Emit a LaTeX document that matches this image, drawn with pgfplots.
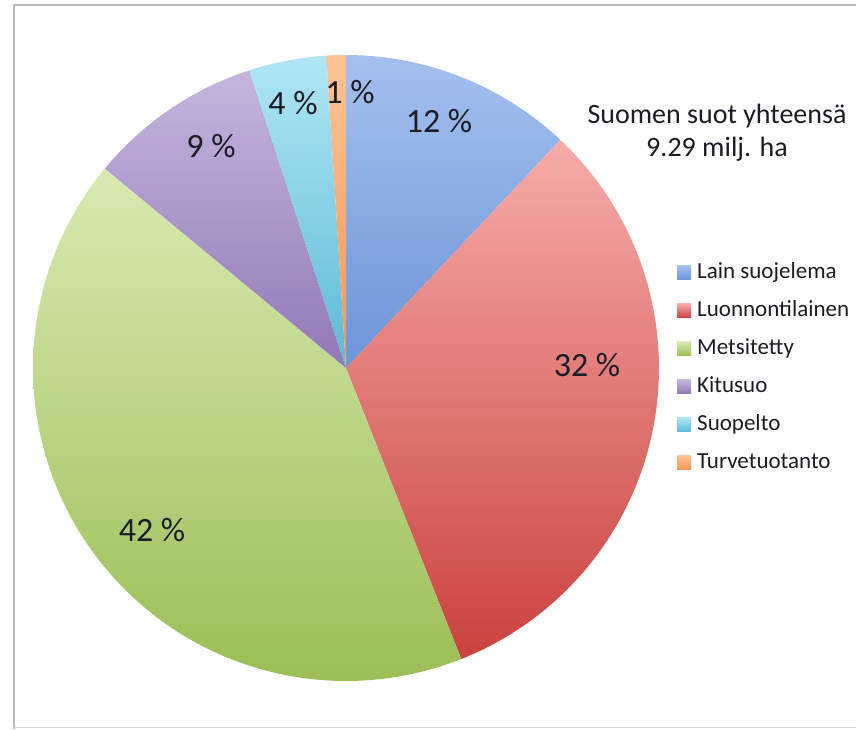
\documentclass[border=0pt]{standalone}
\usepackage{fontspec}
\setmainfont{Carlito}
\usepackage{pgfplots}
\pgfplotsset{compat=1.18}

\definecolor{txt}{RGB}{28,28,38}
\definecolor{frame}{RGB}{185,185,185}
\definecolor{blueT}{RGB}{164,192,238}
\definecolor{blueB}{RGB}{108,148,216}
\definecolor{redT}{RGB}{246,172,170}
\definecolor{redB}{RGB}{202,66,62}
\definecolor{greenT}{RGB}{216,234,178}
\definecolor{greenB}{RGB}{155,190,86}
\definecolor{purpleT}{RGB}{196,182,222}
\definecolor{purpleB}{RGB}{146,120,182}
\definecolor{cyanT}{RGB}{176,230,244}
\definecolor{cyanB}{RGB}{92,186,214}
\definecolor{orangeT}{RGB}{250,196,150}
\definecolor{orangeB}{RGB}{244,150,82}

% #1 = start (%), #2 = share (%), #3/#4 = top/bottom colour
\newcommand{\slice}[4]{%
  \pgfmathsetmacro{\sa}{#1*3.6}%
  \pgfmathsetmacro{\sb}{(#1+#2)*3.6}%
  \edef\doslice{\noexpand\addplot[draw=none, top color=#3, bottom color=#4,
      domain=\sa:\sb, samples=90, variable=\noexpand\t]}%
  \doslice ({346+313*sin(\t)},{368-313*cos(\t)}) -- (axis cs:346,368) -- cycle;
}

\begin{document}
\begin{tikzpicture}
\begin{axis}[
    scale only axis,
    width=856pt, height=729pt,
    xmin=0, xmax=856, ymin=0, ymax=729,
    y dir=reverse,
    hide axis,
    clip=false,
    legend image code/.code={\fill[#1] (0pt,-7pt) rectangle (14pt,7pt);},
    legend style={draw=none, fill=none, at={(axis cs:677,262)}, anchor=north west,
      font=\fontsize{23}{28}\selectfont, text=txt, inner sep=0pt,
      row sep=17pt, column sep=6pt,
      nodes={inner sep=0pt, text height=16pt, text depth=5pt},
      cells={anchor=west}},
  ]
  % frame
  \draw[frame, line width=2pt] (axis cs:14,729) -- (axis cs:14,5) -- (axis cs:856,5);
  \draw[frame!60, line width=1pt] (axis cs:14,727.5) -- (axis cs:856,727.5);

  \slice{0}{12}{blueT}{blueB}
  \addlegendentry{Lain suojelema}
  \slice{12}{32}{redT}{redB}
  \addlegendentry{Luonnontilainen}
  \slice{44}{42}{greenT}{greenB}
  \addlegendentry{Metsitetty}
  \slice{86}{9}{purpleT}{purpleB}
  \addlegendentry{Kitusuo}
  \slice{95}{4}{cyanT}{cyanB}
  \addlegendentry{Suopelto}
  \slice{99}{1}{orangeT}{orangeB}
  \addlegendentry{Turvetuotanto}

  \begin{scope}[every node/.style={text=txt, font=\fontsize{34}{40}\selectfont}]
    \node at (axis cs:439,121) {12 \%};
    \node at (axis cs:587,365) {32 \%};
    \node at (axis cs:152,530) {42 \%};
    \node at (axis cs:211,146) {9 \%};
    \node at (axis cs:293,103) {4 \%};
    \node at (axis cs:350,92) {1 \%};
  \end{scope}
  \node[text=txt, align=center, font=\fontsize{28}{33}\selectfont]
    at (axis cs:717,133) {Suomen suot yhteensä\\9.29 milj. ha};
\end{axis}
\pgfresetboundingbox
\useasboundingbox (current axis.south west) rectangle (current axis.north east);
\end{tikzpicture}
\end{document}
